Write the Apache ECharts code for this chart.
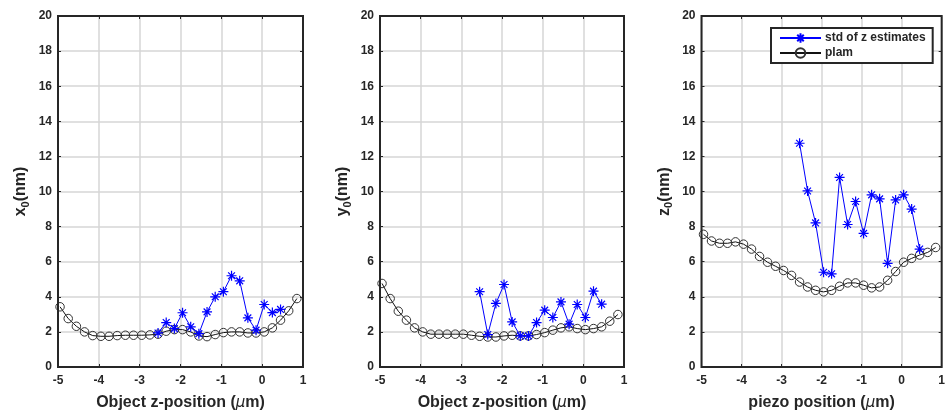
<!DOCTYPE html>
<html>
<head>
<meta charset="utf-8">
<script src="https://cdn.jsdelivr.net/npm/echarts@6/dist/echarts.min.js"></script>
<style>
html,body{margin:0;padding:0;background:#fff;}
#c{width:948px;height:416px;}
</style>
</head>
<body>
<div id="c"></div>
<script>
// ---- data ----
const zPos = [-4.95,-4.75,-4.55,-4.35,-4.15,-3.95,-3.75,-3.55,-3.35,-3.15,-2.95,-2.75,-2.55,-2.35,-2.15,-1.95,-1.75,-1.55,-1.35,-1.15,-0.95,-0.75,-0.55,-0.35,-0.15,0.05,0.25,0.45,0.65,0.85];
const zStar = [-2.55,-2.35,-2.15,-1.95,-1.75,-1.55,-1.35,-1.15,-0.95,-0.75,-0.55,-0.35,-0.15,0.05,0.25,0.45];
const x0Plam = [3.43,2.76,2.32,2.0,1.79,1.75,1.75,1.79,1.81,1.81,1.81,1.83,1.87,2.04,2.13,2.13,2.0,1.77,1.73,1.85,1.96,2.0,2.0,1.94,1.94,2.0,2.23,2.67,3.2,3.9];
const x0Std = [1.94,2.53,2.19,3.09,2.29,1.90,3.14,4.0,4.29,5.2,4.91,2.8,2.1,3.56,3.10,3.28];
const y0Plam = [4.76,3.9,3.18,2.67,2.23,2.0,1.87,1.87,1.87,1.87,1.87,1.81,1.75,1.71,1.71,1.77,1.81,1.77,1.77,1.85,1.96,2.1,2.23,2.29,2.19,2.13,2.19,2.29,2.61,2.99];
const y0Std = [4.29,1.85,3.62,4.70,2.57,1.77,1.77,2.53,3.24,2.82,3.71,2.44,3.56,2.82,4.32,3.58];
const z0Plam = [7.56,7.18,7.05,7.05,7.13,7.0,6.72,6.30,5.97,5.74,5.50,5.22,4.84,4.56,4.37,4.28,4.37,4.60,4.79,4.79,4.66,4.51,4.56,4.94,5.44,5.97,6.19,6.38,6.53,6.81];
const z0Std = [12.75,10.03,8.21,5.40,5.31,10.80,8.12,9.43,7.61,9.81,9.58,5.91,9.52,9.81,9.0,6.72];
const xTitles = ['Object z-position (', 'Object z-position (', 'piezo position ('];
const yLetters = ['x', 'y', 'z'];
const nameStd = 'std of z estimates';
const namePlam = 'plam';

// ---- style ----
const FONT = 'Liberation Sans';
const TXT = '#262626';
const grids = [
  {left: 58, top: 16, width: 245, height: 352.5},
  {left: 380, top: 16, width: 244, height: 352.5},
  {left: 701.5, top: 16, width: 243.5, height: 352.5}
];
const STAR = 'path://M5,0L5,10M0,5L10,5M1.6,1.6L8.4,8.4M1.6,8.4L8.4,1.6';

const zip = (xs, ys) => xs.map((x, i) => [x, ys[i]]);

const option = {
  animation: false,
  backgroundColor: '#fff',
  grid: grids.map(g => Object.assign({show: true, z: 20, backgroundColor: 'transparent', borderColor: TXT, borderWidth: 2}, g)),
  xAxis: [],
  yAxis: [],
  series: [],
  legend: {
    data: [nameStd, namePlam],
    orient: 'vertical',
    left: 771, top: 28,
    padding: [4, 7, 4, 8],
    itemGap: 3,
    itemWidth: 41,
    itemHeight: 12,
    borderColor: TXT,
    borderWidth: 2,
    backgroundColor: '#fff',
    z: 30,
    textStyle: {fontFamily: FONT, fontWeight: 'bold', fontSize: 12, color: TXT, padding: [0,0,0,-1]}
  }
};

const tick = {show: true, inside: true, length: 3, lineStyle: {color: TXT, width: 1}};
for (let k = 0; k < 3; k++) {
  option.xAxis.push({
    type: 'value', gridIndex: k, min: -5, max: 1, interval: 1,
    name: '{b|' + xTitles[k] + '}{mu|\u03BC}{b|m)}',
    nameLocation: 'middle', nameGap: 28,
    nameTextStyle: {
      rich: {
        b: {fontFamily: FONT, fontWeight: 'bold', fontSize: 16, color: TXT},
        mu: {fontFamily: 'DejaVu Sans', fontStyle: 'italic', fontWeight: 'normal', fontSize: 15, color: TXT}
      }
    },
    axisLine: {show: false, onZero: false},
    axisTick: tick,
    axisLabel: {fontFamily: FONT, fontWeight: 'bold', fontSize: 12, color: TXT, margin: 8},
    splitLine: {show: true, lineStyle: {color: '#d6d6d6', width: 1.5}}
  });
  option.xAxis.push({
    type: 'value', gridIndex: k, position: 'top', min: -5, max: 1, interval: 1,
    axisLine: {show: false, onZero: false},
    axisTick: tick,
    axisLabel: {show: false}, splitLine: {show: false}
  });
  option.yAxis.push({
    type: 'value', gridIndex: k, position: 'left', min: 0, max: 20, interval: 2,
    name: '{b|' + yLetters[k] + '}{s|0}{b|(nm)}',
    nameLocation: 'middle', nameGap: 27, nameRotate: 90,
    nameTextStyle: {
      rich: {
        b: {fontFamily: FONT, fontWeight: 'bold', fontSize: 16, color: TXT, lineHeight: 20},
        s: {fontFamily: FONT, fontWeight: 'bold', fontSize: 11, color: TXT, lineHeight: 12, verticalAlign: 'bottom'}
      }
    },
    axisLine: {show: false, onZero: false},
    axisTick: tick,
    axisLabel: {fontFamily: FONT, fontWeight: 'bold', fontSize: 12, color: TXT, margin: 6},
    splitLine: {show: true, lineStyle: {color: '#d6d6d6', width: 1.5}}
  });
  option.yAxis.push({
    type: 'value', gridIndex: k, position: 'right', min: 0, max: 20, interval: 2,
    axisLine: {show: false, onZero: false},
    axisTick: tick,
    axisLabel: {show: false}, splitLine: {show: false}
  });
}

const plams = [x0Plam, y0Plam, z0Plam];
const stds = [x0Std, y0Std, z0Std];
for (let k = 0; k < 3; k++) {
  option.series.push({
    name: namePlam, type: 'line', xAxisIndex: 2 * k, yAxisIndex: 2 * k,
    data: zip(zPos, plams[k]),
    symbol: 'circle', symbolSize: 8.5, showAllSymbol: true,
    lineStyle: {color: '#111', width: 1},
    itemStyle: {color: 'rgba(255,255,255,0)', borderColor: '#333', borderWidth: 1},
    z: 2
  });
  option.series.push({
    name: nameStd, type: 'line', xAxisIndex: 2 * k, yAxisIndex: 2 * k,
    data: zip(zStar, stds[k]),
    symbol: STAR, symbolSize: 10, showAllSymbol: true,
    lineStyle: {color: '#0000ff', width: 1},
    itemStyle: {color: '#0000ff', borderColor: '#0000ff', borderWidth: 1.2},
    z: 3
  });
}

const chart = echarts.init(document.getElementById('c'), null, {renderer: 'canvas'});
chart.setOption(option);
</script>
</body>
</html>
